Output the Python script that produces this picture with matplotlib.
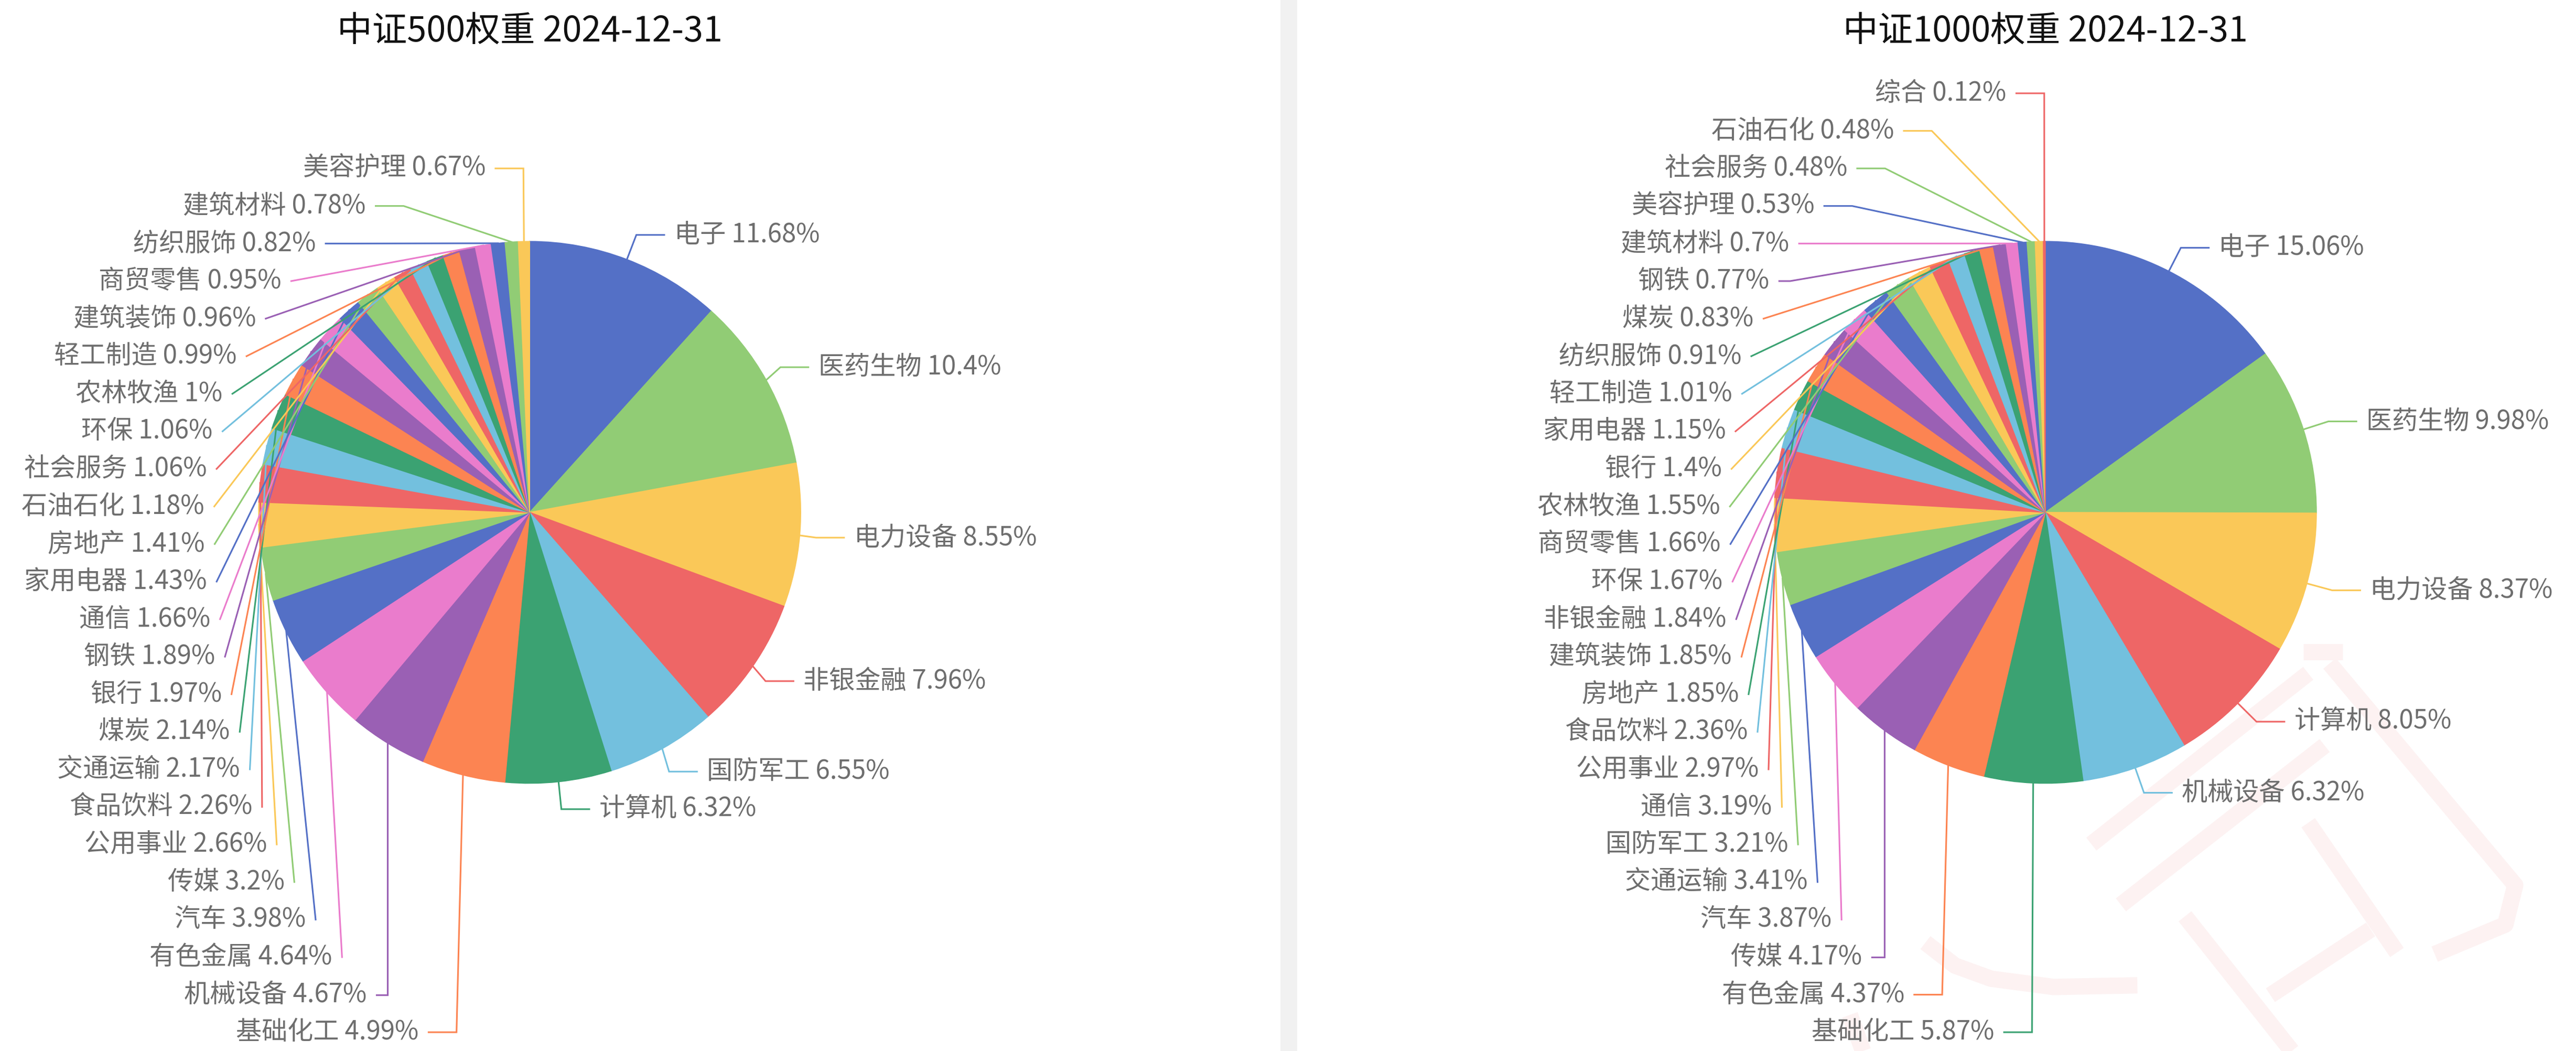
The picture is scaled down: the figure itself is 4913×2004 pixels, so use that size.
import math
import numpy as np
import matplotlib.pyplot as plt

plt.rcParams['font.family'] = ['Noto Sans CJK SC', 'DejaVu Sans']

# 中证500 行业权重 (%)
names_500 = ['电子', '医药生物', '电力设备', '非银金融', '国防军工', '计算机', '基础化工', '机械设备',
             '有色金属', '汽车', '传媒', '公用事业', '食品饮料', '交通运输', '煤炭', '银行', '钢铁',
             '通信', '家用电器', '房地产', '石油石化', '社会服务', '环保', '农林牧渔', '轻工制造',
             '建筑装饰', '商贸零售', '纺织服饰', '建筑材料', '美容护理']
weights_500 = [11.68, 10.4, 8.55, 7.96, 6.55, 6.32, 4.99, 4.67, 4.64, 3.98, 3.2, 2.66, 2.26, 2.17,
               2.14, 1.97, 1.89, 1.66, 1.43, 1.41, 1.18, 1.06, 1.06, 1, 0.99, 0.96, 0.95, 0.82,
               0.78, 0.67]

# 中证1000 行业权重 (%)
names_1000 = ['电子', '医药生物', '电力设备', '计算机', '机械设备', '基础化工', '有色金属', '传媒',
              '汽车', '交通运输', '国防军工', '通信', '公用事业', '食品饮料', '房地产', '建筑装饰',
              '非银金融', '环保', '商贸零售', '农林牧渔', '银行', '家用电器', '轻工制造', '纺织服饰',
              '煤炭', '钢铁', '建筑材料', '美容护理', '社会服务', '石油石化', '综合']
weights_1000 = [15.06, 9.98, 8.37, 8.05, 6.32, 5.87, 4.37, 4.17, 3.87, 3.41, 3.21, 3.19, 2.97,
                2.36, 1.85, 1.85, 1.84, 1.67, 1.66, 1.55, 1.4, 1.15, 1.01, 0.91, 0.83, 0.77, 0.7,
                0.53, 0.48, 0.48, 0.12]

titles = ['中证500权重 2024-12-31', '中证1000权重 2024-12-31']

palette = ['#5470c6', '#91cc75', '#fac858', '#ee6666', '#73c0de',
           '#3ba272', '#fc8452', '#9a60b4', '#ea7ccc']

# layout in screen units of the shrunk page (y grows downward)
PAGE_W, PAGE_H = 1568, 640
R = 165
LEN1, LEN2, DIST = 16, 17, 6
LAB_H = 22.87


def project(a, b, p):
    d = b - a
    t = np.dot(p - a, d) / np.dot(d, d)
    q = a + t * d
    return np.linalg.norm(p - q), q


def param_t(q, a, b):
    if b[0] != a[0]:
        return (q[0] - a[0]) / (b[0] - a[0])
    return (q[1] - a[1]) / (b[1] - a[1])


def limit_turn(pts, min_angle=90):
    a = math.radians(min_angle)
    p0, p1, p2 = [np.array(p, float) for p in pts]
    v1, v2 = p0 - p1, p2 - p1
    l1, l2 = np.linalg.norm(v1), np.linalg.norm(v2)
    if l1 < 1e-3 or l2 < 1e-3:
        return
    v1, v2 = v1 / l1, v2 / l2
    if math.cos(a) < np.dot(v1, v2):
        d, q = project(p1, p2, p0)
        q = q + v2 * (d / math.tan(math.pi - a))
        t = param_t(q, p1, p2)
        if t < 0:
            q = p1
        elif t > 1:
            q = p2
        pts[1] = q


def limit_surface(pts, normal, max_angle=90):
    a = math.radians(max_angle)
    p0, p1, p2 = [np.array(p, float) for p in pts]
    v1, v2 = p1 - p0, p2 - p1
    l1, l2 = np.linalg.norm(v1), np.linalg.norm(v2)
    if l1 < 1e-3 or l2 < 1e-3:
        return
    v1, v2 = v1 / l1, v2 / l2
    if np.dot(v1, normal) < math.cos(a):
        d, q = project(p1, p2, p0)
        ang2 = math.acos(np.clip(np.dot(v2, normal), -1, 1))
        new = math.pi / 2 + ang2 - a
        if new >= math.pi / 2:
            q = p2
        else:
            q = q + v2 * (d / math.tan(math.pi / 2 - new))
            t = param_t(q, p1, p2)
            if t < 0:
                q = p1
            elif t > 1:
                q = p2
        pts[1] = q


def shift_y(lst, lo, hi):
    n = len(lst)
    if n < 2:
        return False
    lst.sort(key=lambda d: d['y'])
    state = {'adj': False}

    def top(d):
        return d['y'] - LAB_H / 2

    def move(delta, a, b):
        if delta != 0:
            state['adj'] = True
        for d in lst[a:b]:
            d['y'] += delta

    last = 0
    for d in lst:
        delta = top(d) - last
        if delta < 0:
            d['y'] -= delta
            state['adj'] = True
        last = top(d) + LAB_H

    def squeeze(delta, pct):
        g = [max(top(lst[k]) - top(lst[k - 1]) - LAB_H, 0) for k in range(1, n)]
        tot = sum(g)
        if not tot:
            return
        p = min(abs(delta) / tot, pct)
        if delta > 0:
            for k in range(n - 1):
                move(g[k] * p, 0, k + 1)
        else:
            for k in range(n - 1, 0, -1):
                move(-g[k - 1] * p, k, n)

    def gaps():
        return top(lst[0]) - lo, hi - top(lst[-1]) - LAB_H

    mn, mx = gaps()
    if mn < 0:
        squeeze(-mn, 0.8)
    if mx < 0:
        squeeze(mx, 0.8)
    mn, mx = gaps()

    def take(g_this, g_other, sign):
        if g_this < 0:
            m = min(g_other, -g_this)
            if m > 0:
                move(m * sign, 0, n)
                rem = m + g_this
                if rem < 0:
                    squeeze(-rem * sign, 1)
            else:
                squeeze(-g_this * sign, 1)

    take(mn, mx, 1)
    take(mx, mn, -1)
    return state['adj']


def recalc_x(lst, cx, cy, side):
    ra = R + LEN1
    semis = [{'items': [], 'maxy': 0, 'rb': ra}, {'items': [], 'maxy': 0, 'rb': ra}]
    for d in lst:
        semi = semis[1] if d['y'] > cy else semis[0]
        ddy = abs(d['y'] - cy)
        if ddy >= semi['maxy']:
            ddx = d['x'] - cx - LEN2 * side
            semi['rb'] = math.sqrt(ddy ** 2 / (1 - ddx ** 2 / ra ** 2)) if abs(ddx) < ra else ra
            semi['maxy'] = ddy
        semi['items'].append(d)
    for semi in semis:
        rb = semi['rb']
        for d in semi['items']:
            ddy = abs(d['y'] - cy)
            ddx = math.sqrt(max(1 - ddy ** 2 / rb ** 2, 0) * ra ** 2)
            d['x'] = cx + (ddx + LEN2) * side


def pie_labels(values, cx, cy):
    vals = np.array(values, float)
    mid = (np.cumsum(vals) - vals / 2) / vals.sum()
    theta = -np.pi / 2 + mid * 2 * np.pi
    items = []
    for i, t in enumerate(theta):
        dx, dy = math.cos(t), math.sin(t)
        x1, y1 = cx + R * dx, cy + R * dy
        x2, y2 = x1 + LEN1 * dx, y1 + LEN1 * dy
        side = -1 if dx < 0 else 1
        x3 = x2 + side * LEN2
        items.append({'i': i, 'n': np.array([dx, dy]), 'p0': (x1, y1),
                      'x': x3 + side * DIST, 'y': y2})
    for d in items:
        d['side'] = -1 if d['x'] < cx else 1
    left = [d for d in items if d['side'] < 0]
    right = [d for d in items if d['side'] > 0]
    for lst, side in ((right, 1), (left, -1)):
        if shift_y(lst, 0, PAGE_H):
            recalc_x(lst, cx, cy, side)
    for d in items:
        side = d['side']
        p2x = d['x'] - side * DIST
        p1x = p2x - side * LEN2
        pts = [np.array(d['p0']), np.array([p1x, d['y']]), np.array([p2x, d['y']])]
        limit_turn(pts, 90)
        limit_surface(pts, d['n'], 90)
        d['pts'] = pts
    return sorted(items, key=lambda d: d['i'])


fig = plt.figure(figsize=(4913 / 300, 2004 / 300), dpi=300)
ax = fig.add_axes([0, 0, 1, 1])

# divider between the two chart cards
ax.axvspan(779.5, 789.5, color='#f1f1f1', lw=0, zorder=0)

# faint watermark at the lower right
wm = [[(1273, 514), (1405, 410)], [(1402, 397), (1426, 397)],
      [(1418, 404), (1531, 539), (1525, 563), (1482, 581)],
      [(1291, 551), (1415, 454)], [(1405, 501), (1459, 580)],
      [(1330, 558), (1395, 640)], [(1382, 606), (1443, 566)],
      [(1172, 574), (1190, 588), (1212, 596), (1250, 601), (1301, 600)],
      [(1126, 618), (1134, 640)]]
for stroke in wm:
    xs, ys = zip(*stroke)
    ax.plot(xs, [PAGE_H - y for y in ys], color='#fdf2f2', lw=7.5,
            solid_capstyle='butt', zorder=0.5)

panels = [(names_500, weights_500, 322.4, 312.0),
          (names_1000, weights_1000, 1245.0, 312.0)]

for k, (names, weights, cx, cy) in enumerate(panels):
    colors = [palette[i % len(palette)] for i in range(len(weights))]
    wedges, _ = ax.pie(weights, colors=colors, startangle=90, counterclock=False, radius=R,
                       center=(cx, PAGE_H - cy), wedgeprops=dict(linewidth=0.4))
    for w in wedges:
        w.set_edgecolor(w.get_facecolor())
    for d in pie_labels(weights, cx, cy):
        c = colors[d['i']]
        xs = [p[0] for p in d['pts']]
        ys = [PAGE_H - p[1] for p in d['pts']]
        ax.plot(xs, ys, color=c, lw=0.75, zorder=3, solid_joinstyle='miter')
        txt = '{} {:g}%'.format(names[d['i']], weights[d['i']])
        ax.text(d['x'], PAGE_H - d['y'], txt, ha='left' if d['side'] > 0 else 'right',
                va='center', fontsize=11.8, color='#6e6e6e', zorder=4)
    ax.text(cx, PAGE_H - 19, titles[k], ha='center', va='center', fontsize=16,
            color='#111111')

ax.set_xlim(0, PAGE_W)
ax.set_ylim(0, PAGE_H)
ax.set_aspect('auto')
ax.set_axis_off()

fig.savefig('out.png', dpi=300, facecolor='white')
